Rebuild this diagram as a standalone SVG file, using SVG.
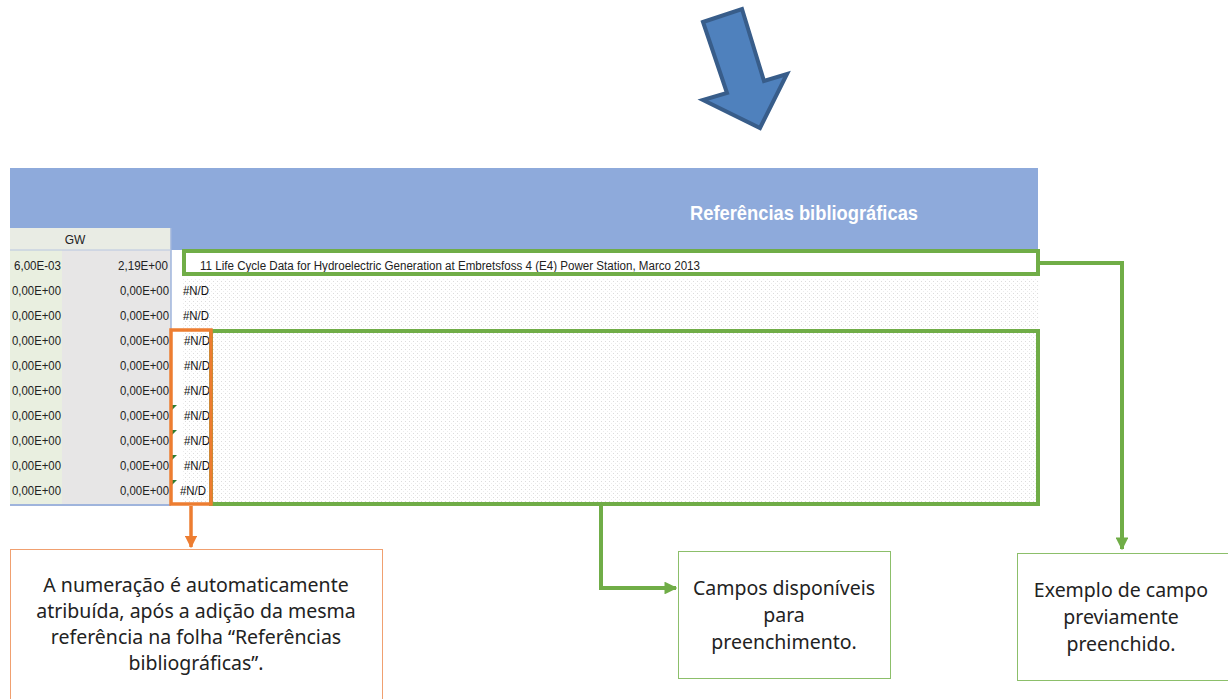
<svg xmlns="http://www.w3.org/2000/svg" width="1228" height="699" viewBox="0 0 1228 699">
<defs>
<pattern id="dots" width="4" height="4" patternUnits="userSpaceOnUse">
<rect width="4" height="4" fill="#ffffff"/>
<rect x="1" y="1" width="1" height="1" fill="#dcdcdc"/>
<rect x="3" y="3" width="1" height="1" fill="#ececec"/>
</pattern>
<marker id="ag" viewBox="0 0 10 10" refX="9" refY="5" markerWidth="3.2" markerHeight="3.2" orient="auto" markerUnits="strokeWidth">
<path d="M0,0 L10,5 L0,10 Z" fill="#70ad47"/>
</marker>
<marker id="ao" viewBox="0 0 10 10" refX="9" refY="5" markerWidth="3.5" markerHeight="3.5" orient="auto" markerUnits="strokeWidth">
<path d="M0,0 L10,5 L0,10 Z" fill="#ed7d31"/>
</marker>
</defs>
<style>
.cell{font-family:"Liberation Sans",Arial,sans-serif;font-size:12px;fill:#222}
.na{font-family:"Liberation Sans",Arial,sans-serif;font-size:12px;fill:#111}
.call{font-family:"Noto Sans","Open Sans",sans-serif;font-size:19.5px;fill:#222;text-anchor:middle}
.gline{fill:none;stroke:#70ad47;stroke-width:4}
.oline{fill:none;stroke:#ed7d31;stroke-width:3.5}
.tri{fill:#2e7d32}
</style>
<rect width="1228" height="699" fill="#ffffff"/>

<g id="big-arrow">
<polygon points="703,22 742,9 764,81 787,74 760,128 703,100 727,93" fill="#4f81bd" stroke="#385d8a" stroke-width="4" stroke-linejoin="miter"/>
</g>

<g id="spreadsheet">
<rect x="10" y="168" width="1028" height="82" fill="#8eaadb"/>
<rect x="10" y="228" width="161" height="277" fill="#e7e6e6"/>
<rect x="10" y="250" width="52" height="255" fill="#e9efe0"/>
<rect x="10" y="228" width="161" height="22" fill="#e9ece4"/>
<rect x="171" y="250" width="867" height="255" fill="#ffffff"/>
<rect x="183" y="278" width="855" height="226" fill="url(#dots)"/>
<line x1="171" y1="228" x2="171" y2="505" stroke="#9fb4dc" stroke-width="1.5"/>
<line x1="10" y1="505" x2="171" y2="505" stroke="#9fb4dc" stroke-width="2"/>
<line x1="10" y1="250" x2="171" y2="250" stroke="#b8c6e0" stroke-width="1"/>
<text x="690" y="220" font-family="'Liberation Sans',Arial,sans-serif" font-size="20" font-weight="bold" fill="#ffffff" textLength="228" lengthAdjust="spacingAndGlyphs">Referências bibliográficas</text>
<text x="75" y="244" class="cell" text-anchor="middle">GW</text>
<g class="cell">
<text x="14" y="270" textLength="47" lengthAdjust="spacingAndGlyphs">6,00E-03</text>
<text x="12" y="295" textLength="49" lengthAdjust="spacingAndGlyphs">0,00E+00</text>
<text x="12" y="320" textLength="49" lengthAdjust="spacingAndGlyphs">0,00E+00</text>
<text x="12" y="345" textLength="49" lengthAdjust="spacingAndGlyphs">0,00E+00</text>
<text x="12" y="370" textLength="49" lengthAdjust="spacingAndGlyphs">0,00E+00</text>
<text x="12" y="395" textLength="49" lengthAdjust="spacingAndGlyphs">0,00E+00</text>
<text x="12" y="420" textLength="49" lengthAdjust="spacingAndGlyphs">0,00E+00</text>
<text x="12" y="445" textLength="49" lengthAdjust="spacingAndGlyphs">0,00E+00</text>
<text x="12" y="470" textLength="49" lengthAdjust="spacingAndGlyphs">0,00E+00</text>
<text x="12" y="495" textLength="49" lengthAdjust="spacingAndGlyphs">0,00E+00</text>
<text x="118" y="270" textLength="50" lengthAdjust="spacingAndGlyphs">2,19E+00</text>
<text x="120" y="295" textLength="49" lengthAdjust="spacingAndGlyphs">0,00E+00</text>
<text x="120" y="320" textLength="49" lengthAdjust="spacingAndGlyphs">0,00E+00</text>
<text x="120" y="345" textLength="49" lengthAdjust="spacingAndGlyphs">0,00E+00</text>
<text x="120" y="370" textLength="49" lengthAdjust="spacingAndGlyphs">0,00E+00</text>
<text x="120" y="395" textLength="49" lengthAdjust="spacingAndGlyphs">0,00E+00</text>
<text x="120" y="420" textLength="49" lengthAdjust="spacingAndGlyphs">0,00E+00</text>
<text x="120" y="445" textLength="49" lengthAdjust="spacingAndGlyphs">0,00E+00</text>
<text x="120" y="470" textLength="49" lengthAdjust="spacingAndGlyphs">0,00E+00</text>
<text x="120" y="495" textLength="49" lengthAdjust="spacingAndGlyphs">0,00E+00</text>
</g>
<text x="200" y="270" class="cell" textLength="500" lengthAdjust="spacingAndGlyphs">11  Life Cycle Data for Hydroelectric Generation at Embretsfoss 4 (E4) Power Station, Marco 2013</text>
<g class="na">
<text x="183" y="295" textLength="26" lengthAdjust="spacingAndGlyphs">#N/D</text>
<text x="183" y="320" textLength="26" lengthAdjust="spacingAndGlyphs">#N/D</text>
<text x="184" y="345" textLength="26" lengthAdjust="spacingAndGlyphs">#N/D</text>
<text x="184" y="370" textLength="26" lengthAdjust="spacingAndGlyphs">#N/D</text>
<text x="184" y="395" textLength="26" lengthAdjust="spacingAndGlyphs">#N/D</text>
<text x="184" y="420" textLength="26" lengthAdjust="spacingAndGlyphs">#N/D</text>
<text x="184" y="445" textLength="26" lengthAdjust="spacingAndGlyphs">#N/D</text>
<text x="184" y="470" textLength="26" lengthAdjust="spacingAndGlyphs">#N/D</text>
<text x="180" y="495" textLength="26" lengthAdjust="spacingAndGlyphs">#N/D</text>
</g>
<polygon class="tri" points="172,405 177,405 172,410"/>
<polygon class="tri" points="172,430 177,430 172,435"/>
<polygon class="tri" points="172,455 177,455 172,460"/>
<polygon class="tri" points="172,480 177,480 172,485"/>
</g>

<g id="highlight-prefilled">
<rect x="184" y="251" width="854" height="23" class="gline"/>
</g>
<g id="highlight-available">
<rect x="211" y="331" width="827" height="173" class="gline"/>
</g>
<g id="highlight-numbering">
<rect x="171" y="330" width="40" height="174" class="oline"/>
</g>

<g id="connectors">
<polyline points="1040,263 1122,263 1122,549" class="gline" marker-end="url(#ag)"/>
<polyline points="601,506 601,588 676,588" class="gline" marker-end="url(#ag)"/>
<polyline points="191,506 191,547" class="oline" marker-end="url(#ao)"/>
</g>

<g id="note-numbering">
<rect x="10.5" y="549.5" width="372" height="160" fill="#ffffff" stroke="#f0a070" stroke-width="1"/>
<text class="call" x="196" y="592">A numeração é automaticamente</text>
<text class="call" x="196" y="618">atribuída, após a adição da mesma</text>
<text class="call" x="196" y="644">referência na folha “Referências</text>
<text class="call" x="196" y="670">bibliográficas”.</text>
</g>

<g id="note-available">
<rect x="678.5" y="551.5" width="212" height="127" fill="#ffffff" stroke="#8cbf6a" stroke-width="1"/>
<text class="call" x="784" y="595">Campos disponíveis</text>
<text class="call" x="784" y="622">para</text>
<text class="call" x="784" y="649">preenchimento.</text>
</g>

<g id="note-prefilled">
<rect x="1017.5" y="553.5" width="215" height="127" fill="#ffffff" stroke="#8cbf6a" stroke-width="1"/>
<text class="call" x="1121" y="597">Exemplo de campo</text>
<text class="call" x="1121" y="624">previamente</text>
<text class="call" x="1121" y="651">preenchido.</text>
</g>
</svg>
